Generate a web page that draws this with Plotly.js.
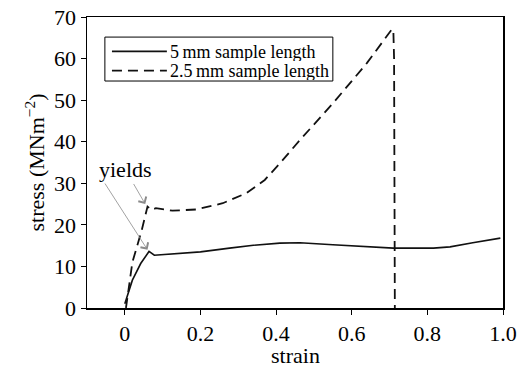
<!DOCTYPE html>
<html>
<head>
<meta charset="utf-8">
<script src="https://cdn.plot.ly/plotly-3.0.1.min.js"></script>
<style>html,body{margin:0;padding:0;background:#fff;}#chart{width:526px;height:371px;}</style>
</head>
<body>
<div id="chart"></div>
<script>
// 5 mm sample length
const strain5 = [0.0, 0.02, 0.042, 0.064, 0.078, 0.118, 0.2, 0.277, 0.34, 0.41, 0.463, 0.55, 0.63, 0.71, 0.816, 0.86, 0.92, 0.993];
const stress5 = [1.0, 6.7, 10.7, 13.6, 12.7, 13.0, 13.5, 14.4, 15.1, 15.6, 15.7, 15.2, 14.8, 14.4, 14.4, 14.7, 15.7, 16.8];
// 2.5 mm sample length
const strain25 = [0.003, 0.02, 0.045, 0.06, 0.07, 0.082, 0.126, 0.188, 0.259, 0.321, 0.37, 0.41, 0.463, 0.55, 0.64, 0.705, 0.71, 0.712, 0.714];
const stress25 = [0.0, 11.0, 18.8, 24.4, 23.6, 24.0, 23.4, 23.7, 25.2, 27.6, 30.8, 34.8, 40.4, 49.2, 58.9, 66.9, 67.0, 60.0, 0.0];
const seriesNames = ['5\u2009mm sample length', '2.5\u2009mm sample length'];
const xTickVals = [0, 0.2, 0.4, 0.6, 0.8, 1.0];
const xTickText = ['0', '0.2', '0.4', '0.6', '0.8', '1.0'];
const yTickVals = [0, 10, 20, 30, 40, 50, 60, 70];

const FONT = '"Liberation Serif", "Times New Roman", serif';
const DASH = '10px,6px';

const traces = [
  {x: strain5, y: stress5, name: seriesNames[0], mode: 'lines', showlegend: false,
   line: {color: '#111', width: 1.6, dash: 'solid'}},
  {x: strain25, y: stress25, name: seriesNames[1], mode: 'lines', showlegend: false,
   line: {color: '#111', width: 1.8, dash: DASH}}
];

const axisCommon = {
  showline: true, mirror: true, linecolor: '#000', linewidth: 1.5,
  ticks: 'outside', ticklen: 5, tickwidth: 1, tickcolor: '#000',
  showgrid: false, zeroline: false,
  tickfont: {family: FONT, size: 22, color: '#000'}
};

// legend drawn as a box with sample lines (paper coordinates)
const legBox = {x0: 0.043, x1: 0.591, y0: 0.780, y1: 0.931};
const legRows = [0.882, 0.816];
const legSample = [0.060, 0.192];
const legDash = ['solid', DASH];

const shapes = [
  {type: 'rect', xref: 'paper', yref: 'paper', x0: legBox.x0, x1: legBox.x1, y0: legBox.y0, y1: legBox.y1,
   line: {color: '#000', width: 1}, fillcolor: '#fff', layer: 'above'}
];
const annotations = [];
seriesNames.forEach((nm, i) => {
  shapes.push({type: 'line', xref: 'paper', yref: 'paper', x0: legSample[0], x1: legSample[1],
    y0: legRows[i], y1: legRows[i], line: {color: '#111', width: 1.8, dash: legDash[i]}, layer: 'above'});
  annotations.push({xref: 'paper', yref: 'paper', x: legSample[1] + 0.002, y: legRows[i],
    xanchor: 'left', yanchor: 'middle', text: nm, showarrow: false, height: 19,
    font: {family: FONT, size: 18, color: '#000'}});
});

annotations.push(
  {x: 0.054, y: 25, xref: 'x', yref: 'y', ax: 0.002, ay: 33.2, axref: 'x', ayref: 'y',
   text: 'yields', showarrow: true, arrowhead: 4, arrowsize: 2.2, arrowwidth: 0.8, arrowcolor: '#8a8a8a',
   font: {family: FONT, size: 22, color: '#000'}},
  {x: 0.06, y: 14, xref: 'x', yref: 'y', ax: -0.055, ay: 30.3, axref: 'x', ayref: 'y',
   text: '', showarrow: true, arrowhead: 4, arrowsize: 2.2, arrowwidth: 0.8, arrowcolor: '#8a8a8a'},
  {xref: 'paper', yref: 'paper', x: 0.5, y: -0.16, xanchor: 'center', yanchor: 'middle', height: 20,
   text: 'strain', showarrow: false, font: {family: FONT, size: 22, color: '#000'}}
);

const layout = {
  width: 526, height: 371,
  margin: {l: 87, r: 23, t: 17, b: 63},
  paper_bgcolor: '#fff', plot_bgcolor: '#fff',
  font: {family: FONT, color: '#000'},
  showlegend: false,
  xaxis: Object.assign({}, axisCommon, {
    range: [-0.1, 1.0], tickmode: 'array', tickvals: xTickVals, ticktext: xTickText
  }),
  yaxis: Object.assign({}, axisCommon, {
    range: [0, 70], tickmode: 'array', tickvals: yTickVals,
    title: {text: 'stress (MNm<sup>\u22122</sup>)', font: {family: FONT, size: 22, color: '#000'}, standoff: 3}
  }),
  shapes: shapes,
  annotations: annotations
};

Plotly.newPlot('chart', traces, layout, {displayModeBar: false, staticPlot: true});
</script>
</body>
</html>
